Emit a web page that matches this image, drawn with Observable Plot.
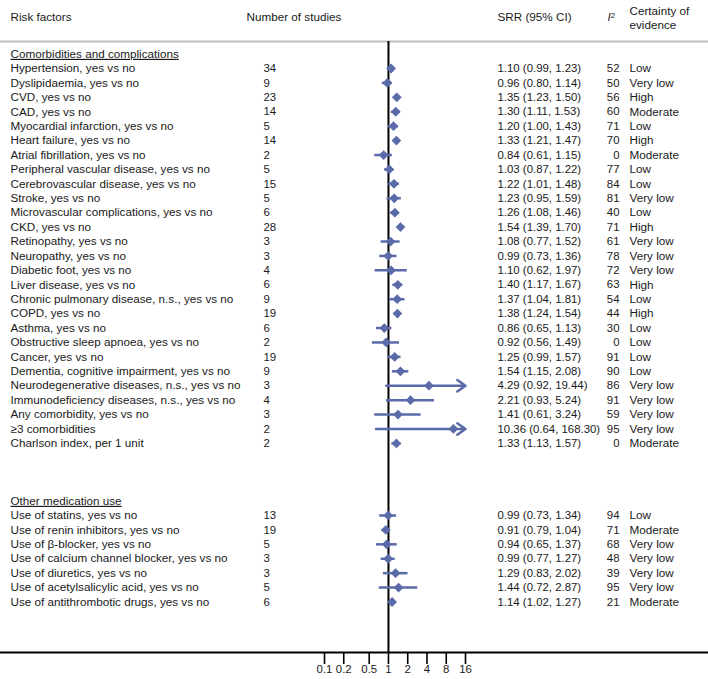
<!DOCTYPE html>
<html><head><meta charset="utf-8">
<script src="https://cdn.jsdelivr.net/npm/d3@7"></script>
<script src="https://cdn.jsdelivr.net/npm/@observablehq/plot@0.6"></script>
<style>body{margin:0;background:#fff} svg{display:block}</style>
</head><body><div id="chart"></div>
<script>
// ---- data ----
const sections = ["Comorbidities and complications", "Other medication use"];
const sectionCounts = [27, 7];
const factors = [
  "Hypertension, yes vs no","Dyslipidaemia, yes vs no","CVD, yes vs no","CAD, yes vs no",
  "Myocardial infarction, yes vs no","Heart failure, yes vs no","Atrial fibrillation, yes vs no",
  "Peripheral vascular disease, yes vs no","Cerebrovascular disease, yes vs no","Stroke, yes vs no",
  "Microvascular complications, yes vs no","CKD, yes vs no","Retinopathy, yes vs no","Neuropathy, yes vs no",
  "Diabetic foot, yes vs no","Liver disease, yes vs no","Chronic pulmonary disease, n.s., yes vs no",
  "COPD, yes vs no","Asthma, yes vs no","Obstructive sleep apnoea, yes vs no","Cancer, yes vs no",
  "Dementia, cognitive impairment, yes vs no","Neurodegenerative diseases, n.s., yes vs no",
  "Immunodeficiency diseases, n.s., yes vs no","Any comorbidity, yes vs no","\u22653 comorbidities",
  "Charlson index, per 1 unit",
  "Use of statins, yes vs no","Use of renin inhibitors, yes vs no","Use of \u03b2-blocker, yes vs no",
  "Use of calcium channel blocker, yes vs no","Use of diuretics, yes vs no",
  "Use of acetylsalicylic acid, yes vs no","Use of antithrombotic drugs, yes vs no"
];
const studies = [34,9,23,14,5,14,2,5,15,5,6,28,3,3,4,6,9,19,6,2,19,9,3,4,3,2,2, 13,19,5,3,3,5,6];
const srr   = [1.10,0.96,1.35,1.30,1.20,1.33,0.84,1.03,1.22,1.23,1.26,1.54,1.08,0.99,1.10,1.40,1.37,1.38,0.86,0.92,1.25,1.54,4.29,2.21,1.41,10.36,1.33, 0.99,0.91,0.94,0.99,1.29,1.44,1.14];
const lower = [0.99,0.80,1.23,1.11,1.00,1.21,0.61,0.87,1.01,0.95,1.08,1.39,0.77,0.73,0.62,1.17,1.04,1.24,0.65,0.56,0.99,1.15,0.92,0.93,0.61,0.64,1.13, 0.73,0.79,0.65,0.77,0.83,0.72,1.02];
const upper = [1.23,1.14,1.50,1.53,1.43,1.47,1.15,1.22,1.48,1.59,1.46,1.70,1.52,1.36,1.97,1.67,1.81,1.54,1.13,1.49,1.57,2.08,19.44,5.24,3.24,168.30,1.57, 1.34,1.04,1.37,1.27,2.02,2.87,1.27];
const i2 = [52,50,56,60,71,70,0,77,84,81,40,71,61,78,72,63,54,44,30,0,91,90,86,91,59,95,0, 94,71,68,48,39,95,21];
const certainty = ["Low","Very low","High","Moderate","Low","High","Moderate","Low","Low","Very low","Low","High",
  "Very low","Very low","Very low","High","Low","High","Low","Low","Low","Low","Very low","Very low","Very low","Very low","Moderate",
  "Low","Moderate","Very low","Very low","Very low","Very low","Moderate"];
const xTicks = [0.1, 0.2, 0.5, 1, 2, 4, 8, 16];
const xTickLabels = ["0.1", "0.2", "0.5", "1", "2", "4", "8", "16"];

// ---- build rows ----
const gapRows = 3;
const rows = [], heads = [];
let r = -1, k = 0;
sections.forEach((s, si) => {
  heads.push({label: s, r});
  r++;
  for (let j = 0; j < sectionCounts[si]; j++, k++, r++) {
    rows.push({
      r, label: factors[k], n: studies[k], srr: srr[k], lo: lower[k], hi: upper[k],
      i2: i2[k], cert: certainty[k],
      ci: `${srr[k].toFixed(2)} (${lower[k].toFixed(2)}, ${upper[k].toFixed(2)})`
    });
  }
  r += gapRows;
});
const tickData = xTicks.map((v, i) => ({v, label: xTickLabels[i]}));

const col = {label: 10, n: 263, nHead: 246, ci: 497, i2: 619, i2Head: 607, cert: 629};
const blue = "#5b6aa8";
const font = "'Liberation Sans', Arial, Helvetica, sans-serif";
const ink = "#1a1a1a";
const headerRow = -3.54;
const fs = 11.7;
const fsNum = 11.4;

const plot = Plot.plot({
  width: 708, height: 679,
  marginTop: 41, marginBottom: 27, marginLeft: 0, marginRight: 0,
  style: {fontFamily: font, fontSize: fs + "px", color: ink, background: "#fff", overflow: "visible"},
  x: {type: "log", domain: [0.1, 16], range: [324, 465], clamp: true},
  y: {type: "linear", domain: [0, 37], range: [68, 601.5], axis: null},
  marks: [
    Plot.frame({anchor: "top", stroke: "#bdbdbd", strokeWidth: 2}),
    Plot.ruleX([1], {stroke: "#000", strokeWidth: 2}),
    Plot.frame({anchor: "bottom", stroke: "#000", strokeWidth: 2}),
    // x axis: tick marks from the axis mark, labels as text
    Plot.axisX({ticks: xTicks, text: null, tickSize: 12, stroke: "#000", strokeWidth: 1.6}),
    Plot.text(tickData, {x: "v", text: "label", frameAnchor: "bottom", dy: 20, fill: ink, fontSize: fsNum}),
    Plot.ruleY(rows, {filter: d => d.hi <= 16, y: "r", x1: "lo", x2: "hi", stroke: blue, strokeWidth: 2.5}),
    Plot.arrow(rows, {filter: d => d.hi > 16, x1: "lo", x2: "hi", y1: "r", y2: "r",
      stroke: blue, strokeWidth: 2.5, headLength: 6, headAngle: 70}),
    Plot.dot(rows, {x: "srr", y: "r", symbol: "diamond2", r: 4.4, fill: blue, stroke: null}),
    // text columns
    Plot.text(rows, {y: "r", text: "label", frameAnchor: "left", dx: col.label, textAnchor: "start", fill: ink}),
    Plot.text(rows, {y: "r", text: "n", frameAnchor: "left", dx: col.n, textAnchor: "start", fill: ink, fontSize: fsNum}),
    Plot.text(rows, {y: "r", text: "ci", frameAnchor: "left", dx: col.ci, textAnchor: "start", fill: ink, fontSize: fsNum}),
    Plot.text(rows, {y: "r", text: "i2", frameAnchor: "left", dx: col.i2, textAnchor: "end", fill: ink, fontSize: fsNum}),
    Plot.text(rows, {y: "r", text: "cert", frameAnchor: "left", dx: col.cert, textAnchor: "start", fill: ink}),
    Plot.text(heads, {y: "r", text: "label", frameAnchor: "left", dx: col.label, textAnchor: "start", fill: ink}),
    // header
    Plot.text(["Risk factors"], {y: headerRow, text: d => d, frameAnchor: "left", dx: col.label, textAnchor: "start", fill: ink}),
    Plot.text(["Number of studies"], {y: headerRow, text: d => d, frameAnchor: "left", dx: col.nHead, textAnchor: "start", fill: ink}),
    Plot.text(["SRR (95% CI)"], {y: headerRow, text: d => d, frameAnchor: "left", dx: col.ci, textAnchor: "start", fill: ink}),
    Plot.text(["I2"], {y: headerRow, text: d => d, frameAnchor: "left", dx: col.i2Head, textAnchor: "start", fill: ink}),
    Plot.text(["Certainty of\nevidence"], {y: headerRow, text: d => d, frameAnchor: "left", dx: col.cert, textAnchor: "start", lineHeight: 1.2, fill: ink})
  ]
});

const svg = d3.select(plot);
svg.selectAll("text").filter(function() { return sections.includes(this.textContent); })
  .style("text-decoration", "underline");
svg.selectAll("text").filter(function() { return this.textContent === "I2"; }).each(function() {
  const t = d3.select(this);
  t.text(null);
  t.append("tspan").attr("font-style", "italic").text("I");
  t.append("tspan").attr("font-size", 8).attr("dy", "-0.45em").text("2");
});
document.getElementById("chart").append(plot);
</script>
</body></html>
